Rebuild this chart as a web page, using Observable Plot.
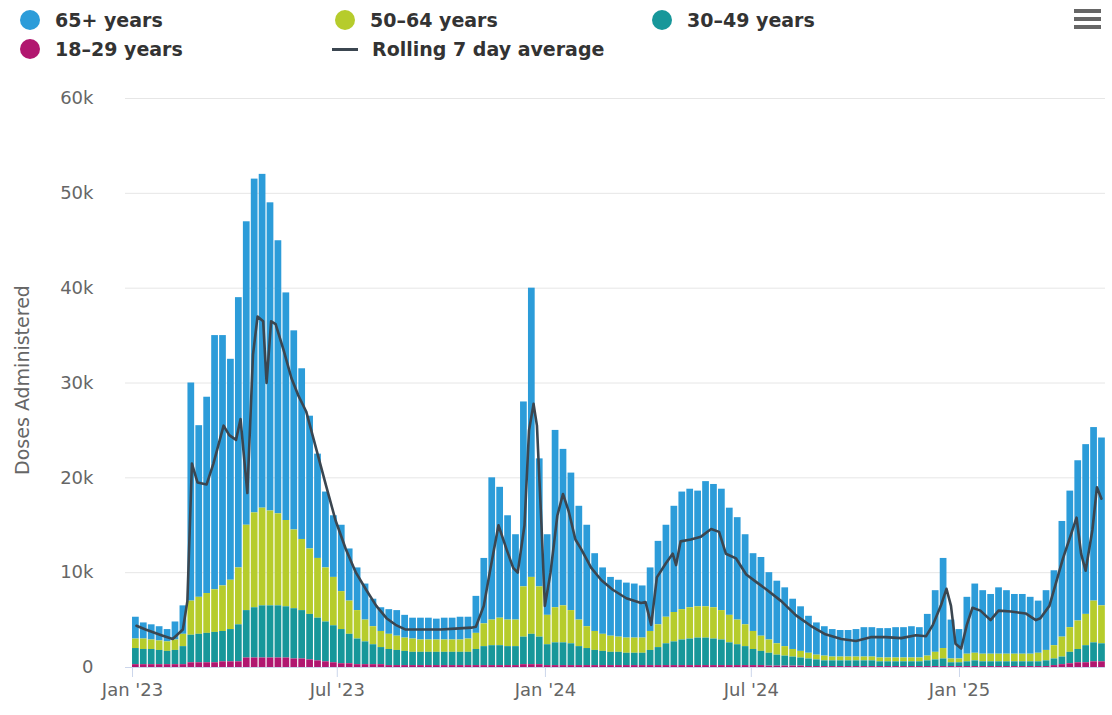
<!DOCTYPE html>
<html>
<head>
<meta charset="utf-8">
<script src="https://cdn.jsdelivr.net/npm/d3@7"></script>
<script src="https://cdn.jsdelivr.net/npm/@observablehq/plot@0.6"></script>
<style>
  html, body { margin: 0; padding: 0; background: #fff; }
  #wrap { position: relative; width: 1112px; height: 715px; overflow: hidden; font-family: "DejaVu Sans", sans-serif; }
  #legend { position: absolute; left: 0; top: 0; width: 1112px; height: 70px; }
  .item { position: absolute; display: flex; align-items: center; height: 24px; font-size: 19px; font-weight: bold; color: #333; white-space: nowrap; }
  .dot { width: 20px; height: 20px; border-radius: 50%; margin-right: 15px; flex: none; }
  .dash { width: 26px; height: 3px; background: #3b4650; margin-right: 14px; flex: none; }
  #ytitle { position: absolute; z-index: 5; left: 22px; top: 380px; transform: translate(-50%, -50%) rotate(-90deg); font-size: 19px; color: #666; white-space: nowrap; }
  #menu { position: absolute; left: 1074px; top: 8px; }
  #chart { position: absolute; left: 0; top: 70px; z-index: 1; }
  #chart g[aria-label="x-axis tick"] path { stroke: #ccd6eb; }
</style>
</head>
<body>
<div id="wrap">
  <div id="legend"></div>
  <svg id="menu" width="28" height="22" viewBox="0 0 28 22">
    <rect x="0" y="1" width="27" height="4" fill="#666"/>
    <rect x="0" y="9" width="27" height="4" fill="#666"/>
    <rect x="0" y="17" width="27" height="4" fill="#666"/>
  </svg>
  <div id="chart"></div>
  <div id="ytitle">Doses Administered</div>
</div>
<script>
// ---- Data (weekly doses, weeks starting Sunday 2023-01-01) ----
const firstWeek = "2023-01-01";
const groups = ["65+ years", "50–64 years", "30–49 years", "18–29 years"];
const colors = ["#2c9cd9", "#b6cc2c", "#17979a", "#b1166f"];

const doses65 = [2300,1700,1600,1500,1300,1900,3000, 23000,18100,20700,26800,26400,23300,28500,
  32000,35200,35200,32500,28800,24000,21000, 18000,14000,11000,8000,6500,7000,5500,
  4500,3800,2900,2500,2600,2700,2400, 2200,2300,2300,2200,2300,2300,2400,
  2300,3900,6900,15000,13800,11000,9000, 19500,30500,13500,8500,18700,16500,14500,
  12000,10700,8200,7000,6200,6000,5800, 5700,5500,6700,8800,9700,11200,12400,
  12500,12200,13200,13000,12800,11300,10800, 9500,8200,8300,7100,6600,6200,5300,
  4700,3900,3400,3100,2900,2800,2800, 2900,3100,3100,3100,3100,3200,3200,
  3300,3200,4400,6500,9500,4100,3100, 6000,7300,6700,6300,7000,6700,6300,
  6300,6000,5500,6300,7900,12200,14400, 16900,17900,18300,17700];
const doses5064 = [1000,1100,1000,1000,1000,1100,1300, 3600,3900,4200,4500,4800,5200,6000,
  9000,10000,10300,10000,9700,9100,8300, 7500,6900,6300,5700,5100,4000,3500,
  3000,2300,1900,1700,1600,1500,1400, 1400,1300,1300,1300,1300,1300,1300,
  1400,1700,2400,2700,2900,2800,2800, 5300,6000,5300,3100,3700,3900,3500,
  2800,2300,2000,1800,1700,1600,1600, 1600,1600,2000,2400,2800,3100,3200,
  3300,3300,3300,3300,3100,2900,2600, 2300,1900,1600,1400,1200,1000,800,
  700,600,500,500,400,400,400, 400,400,400,400,400,400,400,
  400,400,500,800,1100,400,400, 800,800,800,800,800,800,800,
  800,800,900,1100,1400,2100,2600, 3000,3300,4400,4000];
const doses3049 = [1700,1600,1600,1500,1400,1500,1900, 2900,3000,3100,3200,3200,3400,3900,
  5000,5300,5500,5500,5500,5400,5300, 5100,4800,4500,4200,3900,3600,3100,
  2700,2400,2100,1800,1700,1600,1500, 1400,1400,1400,1400,1400,1400,1400,
  1400,1700,2000,2100,2100,2000,2000, 2900,3200,2900,2200,2400,2400,2300,
  2000,1800,1600,1500,1400,1400,1300, 1300,1300,1600,1900,2300,2500,2700,
  2800,2900,2900,2800,2700,2400,2200, 2000,1700,1500,1350,1150,1050,950,
  850,800,700,600,600,600,600, 600,600,600,500,500,500,500,
  500,500,600,700,800,400,400, 500,600,500,500,500,500,500,
  500,500,500,600,700,800,1200, 1400,1800,2000,1900];
const doses1829 = [300,300,300,300,300,300,300, 500,500,500,500,600,600,600,
  1000,1000,1000,1000,1000,1000,900, 900,800,700,600,500,400,400,
  300,300,300,300,200,200,200, 200,200,200,200,200,200,200,
  200,200,200,200,200,200,200, 300,300,300,200,200,200,200,
  200,200,200,200,200,200,200, 200,200,200,200,200,200,200,
  200,200,200,200,200,200,200, 200,200,200,150,150,150,150,
  150,100,100,100,100,100,100, 100,100,100,100,100,100,100,
  100,100,100,100,100,100,100, 100,100,100,100,100,100,100,
  100,100,100,100,200,300,400, 500,500,600,600];

// Rolling 7 day average
const avgDates = ["2023-01-04","2023-01-12","2023-01-26","2023-02-05","2023-02-14","2023-02-18","2023-02-22","2023-02-27",
  "2023-03-07","2023-03-13","2023-03-22","2023-03-27","2023-04-02","2023-04-06","2023-04-12","2023-04-17","2023-04-21",
  "2023-04-26","2023-04-29","2023-05-03","2023-05-07","2023-05-14","2023-05-21","2023-05-27","2023-06-03","2023-06-12",
  "2023-06-21","2023-06-29","2023-07-08","2023-07-17","2023-07-26","2023-08-04","2023-08-13","2023-08-21","2023-08-30",
  "2023-09-13","2023-09-30","2023-10-13","2023-10-27","2023-10-31","2023-11-07","2023-11-13","2023-11-20","2023-11-27",
  "2023-12-03","2023-12-07","2023-12-13","2023-12-17","2023-12-21","2023-12-24","2023-12-28","2023-12-31",
  "2024-01-05","2024-01-11","2024-01-16","2024-01-21","2024-01-27","2024-02-01","2024-02-10","2024-02-19","2024-02-29",
  "2024-03-12","2024-03-25","2024-03-29","2024-04-03","2024-04-08","2024-04-16","2024-04-22","2024-04-25","2024-04-29",
  "2024-05-08","2024-05-17","2024-05-26","2024-06-02","2024-06-08","2024-06-17","2024-06-26","2024-07-05","2024-07-13",
  "2024-07-27","2024-08-09","2024-08-22","2024-09-04","2024-09-18","2024-10-01","2024-10-14","2024-10-27","2024-11-10",
  "2024-11-23","2024-12-02","2024-12-08","2024-12-15","2024-12-20","2024-12-24","2024-12-28",
  "2025-01-02","2025-01-07","2025-01-12","2025-01-19","2025-01-28","2025-02-04","2025-02-15","2025-02-28","2025-03-09",
  "2025-03-13","2025-03-21","2025-03-27","2025-04-02","2025-04-09","2025-04-14","2025-04-18","2025-04-22","2025-04-28",
  "2025-05-02","2025-05-06"];
const avgValues = [4400,4000,3400,3000,4000,7000,21500,19500,
  19300,21500,25500,24500,24000,26200,18400,33000,37000,
  36500,30000,36500,36200,33500,30500,28700,27000,23000,
  19000,15500,12500,10000,8200,6500,5200,4500,4000,
  4000,4000,4100,4200,4300,6500,10500,15000,12500,
  10500,10000,15000,25000,27800,25500,15000,6500,
  10000,16000,18300,16500,13500,12500,10500,9200,8200,
  7300,6800,6900,4500,9500,11000,12000,10800,13300,
  13500,13800,14600,14300,12000,11500,9800,9000,8300,
  7000,5500,4400,3500,3000,2800,3200,3200,3100,
  3400,3300,4500,6500,8300,6500,2500,
  2000,4500,6300,6000,5000,6000,5900,5700,5000,
  5200,6500,9000,11500,14000,15800,12000,10200,14500,
  19000,17800];

const yTicks = [0, 10000, 20000, 30000, 40000, 50000, 60000];
const xTicks = ["2023-01-01", "2023-07-01", "2024-01-01", "2024-07-01", "2025-01-01"];

// ---- Build tables ----
const seriesValues = [doses65, doses5064, doses3049, doses1829];
const start = new Date(firstWeek + "T00:00:00Z");
const rows = [];
for (let i = 0; i < doses65.length; i++) {
  const x1 = d3.utcDay.offset(start, 7 * i);
  const x2 = d3.utcDay.offset(start, 7 * i + 7);
  groups.forEach((g, k) => rows.push({x1, x2, group: g, value: seriesValues[k][i]}));
}
const avg = avgDates.map((d, i) => ({date: new Date(d + "T12:00:00Z"), value: avgValues[i]}));

// ---- Legend ----
const legend = document.getElementById("legend");
const legendItems = [
  {label: groups[0], color: colors[0], left: 20, top: 8},
  {label: groups[1], color: colors[1], left: 335, top: 8},
  {label: groups[2], color: colors[2], left: 652, top: 8},
  {label: groups[3], color: colors[3], left: 20, top: 37},
  {label: "Rolling 7 day average", line: true, left: 332, top: 37}
];
for (const it of legendItems) {
  const el = document.createElement("div");
  el.className = "item";
  el.style.left = it.left + "px";
  el.style.top = it.top + "px";
  const sw = document.createElement("span");
  if (it.line) sw.className = "dash"; else { sw.className = "dot"; sw.style.background = it.color; }
  el.appendChild(sw);
  el.appendChild(document.createTextNode(it.label));
  legend.appendChild(el);
}

// ---- Chart ----
const chart = Plot.plot({
  width: 1112,
  height: 645,
  marginTop: 28,
  marginBottom: 48,
  marginLeft: 125,
  marginRight: 7,
  style: {fontFamily: "DejaVu Sans, sans-serif", fontSize: "18px", background: "transparent"},
  x: {type: "utc", domain: [new Date("2022-12-25T19:00:00Z"), new Date("2025-05-10T02:00:00Z")]},
  y: {domain: [0, 60000]},
  color: {domain: groups, range: colors},
  marks: [
    Plot.gridY(yTicks, {stroke: "#e6e6e6", strokeOpacity: 1}),
    Plot.rectY(rows, {
      x1: "x1", x2: "x2", y: "value", fill: "group",
      order: ["18–29 years", "30–49 years", "50–64 years", "65+ years"],
      insetRight: 1.2, clip: true
    }),
    Plot.ruleY([0], {stroke: "#ccd6eb"}),
    Plot.line(avg, {x: "date", y: "value", stroke: "#3b4650", strokeWidth: 2.6, curve: "linear", clip: true}),
    Plot.axisY({ticks: yTicks, tickSize: 0, tickPadding: 32, label: null, fill: "#666",
      tickFormat: d => d === 0 ? "0" : (d / 1000) + "k"}),
    Plot.axisX({ticks: xTicks.map(d => new Date(d + "T00:00:00Z")), tickSize: 10, tickPadding: 6, label: null, fill: "#666",
      tickFormat: d3.utcFormat("%b '%y")})
  ]
});
document.getElementById("chart").appendChild(chart);
</script>
</body>
</html>
